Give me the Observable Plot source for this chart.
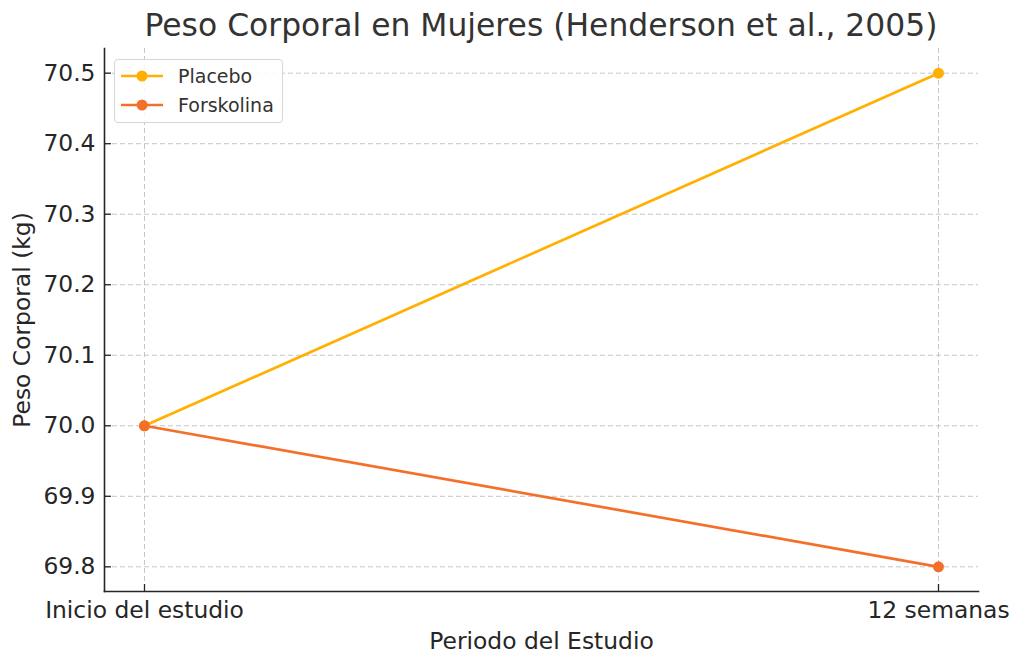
<!DOCTYPE html>
<html>
<head>
<meta charset="utf-8">
<script src="https://cdn.jsdelivr.net/npm/d3@7"></script>
<script src="https://cdn.jsdelivr.net/npm/@observablehq/plot@0.6"></script>
<style>
  html, body { margin: 0; padding: 0; background: #fff; }
  #wrap { position: relative; width: 1024px; height: 667px; font-family: "DejaVu Sans", sans-serif; }
  #title { position: relative; width: 1024px; height: 48px; }
  #title span { position: absolute; left: 104px; width: 874px; top: 10px; text-align: center; font-size: 31.4px; line-height: 31px; color: #333333; white-space: nowrap; }
  #legend { position: absolute; left: 114px; top: 59px; width: 169px; height: 64px; border: 1px solid #d6d6d6; border-radius: 4px; background: rgba(255,255,255,0.85); box-sizing: border-box; }
  .row { position: absolute; left: 0; height: 20px; }
  .row svg { position: absolute; left: 6px; top: 0; }
  .row span { position: absolute; left: 63px; font-size: 19px; color: #333333; white-space: nowrap; line-height: 20px; top: 0; }
</style>
</head>
<body>
<div id="wrap">
  <div id="title"><span>Peso Corporal en Mujeres (Henderson et al., 2005)</span></div>
  <div id="chart"></div>
  <div id="legend"></div>
</div>
<script>
const periods = ["Inicio del estudio", "12 semanas"];
const seriesNames = ["Placebo", "Forskolina"];
const placebo = [70.0, 70.5];
const forskolina = [70.0, 69.8];
const seriesColors = ["#FFB000", "#F4702A"];
const yTicks = [69.8, 69.9, 70.0, 70.1, 70.2, 70.3, 70.4, 70.5];
const yDomain = [69.765, 70.535];

const rows = [];
periods.forEach((p, i) => rows.push({period: p, value: placebo[i], series: seriesNames[0]}));
periods.forEach((p, i) => rows.push({period: p, value: forskolina[i], series: seriesNames[1]}));

const ink = "#262626";
const font = "DejaVu Sans, sans-serif";

const chart = Plot.plot({
  width: 1024,
  height: 619,
  marginTop: 0,
  marginBottom: 76,
  marginLeft: 104,
  marginRight: 46,
  style: {fontFamily: font, color: ink, background: "transparent", overflow: "visible"},
  x: {type: "point", domain: periods, padding: 0.05},
  y: {domain: yDomain},
  color: {domain: seriesNames, range: seriesColors},
  marks: [
    Plot.gridY(yTicks, {stroke: "#b8b8b8", strokeOpacity: 0.8, strokeDasharray: "5,3", strokeWidth: 1}),
    Plot.gridX(periods, {stroke: "#b8b8b8", strokeOpacity: 0.8, strokeDasharray: "5,3", strokeWidth: 1}),
    Plot.axisY(yTicks, {tickSize: 0, tickPadding: 9, tickFormat: d3.format(".1f"), fontSize: 23.4, fill: ink,
      label: "Peso Corporal (kg)", labelAnchor: "center", labelArrow: "none", labelOffset: 91}),
    Plot.axisY(yTicks, {tickSize: -7, text: null, stroke: ink, strokeWidth: 1.3, label: null}),
    Plot.axisX(periods, {tickSize: 0, tickPadding: 10, fontSize: 23.4, fill: ink,
      label: "Periodo del Estudio", labelAnchor: "center", labelArrow: "none", labelOffset: 57}),
    Plot.axisX(periods, {tickSize: -7, text: null, stroke: ink, strokeWidth: 1.3, label: null}),
    Plot.frame({anchor: "left", stroke: ink, strokeWidth: 1.6}),
    Plot.frame({anchor: "bottom", stroke: ink, strokeWidth: 1.6}),
    Plot.line(rows, {x: "period", y: "value", z: "series", stroke: "series", strokeWidth: 2.7}),
    Plot.dot(rows, {x: "period", y: "value", fill: "series", r: 5.5, stroke: null})
  ]
});
chart.querySelectorAll("g[aria-label='y-axis label'] text, g[aria-label='x-axis label'] text").forEach(t => { t.setAttribute("font-size", "23.4"); });
document.getElementById("chart").appendChild(chart);

const legend = document.getElementById("legend");
seriesNames.forEach((name, i) => {
  const row = document.createElement("div");
  row.className = "row";
  row.style.top = (i === 0 ? 6 : 35) + "px";
  row.style.width = "100%";
  row.innerHTML = `<svg width="42" height="20"><line x1="0" y1="10" x2="42" y2="10" stroke="${seriesColors[i]}" stroke-width="2.7"/><circle cx="21" cy="10" r="5.5" fill="${seriesColors[i]}"/></svg><span>${name}</span>`;
  legend.appendChild(row);
});
</script>
</body>
</html>
